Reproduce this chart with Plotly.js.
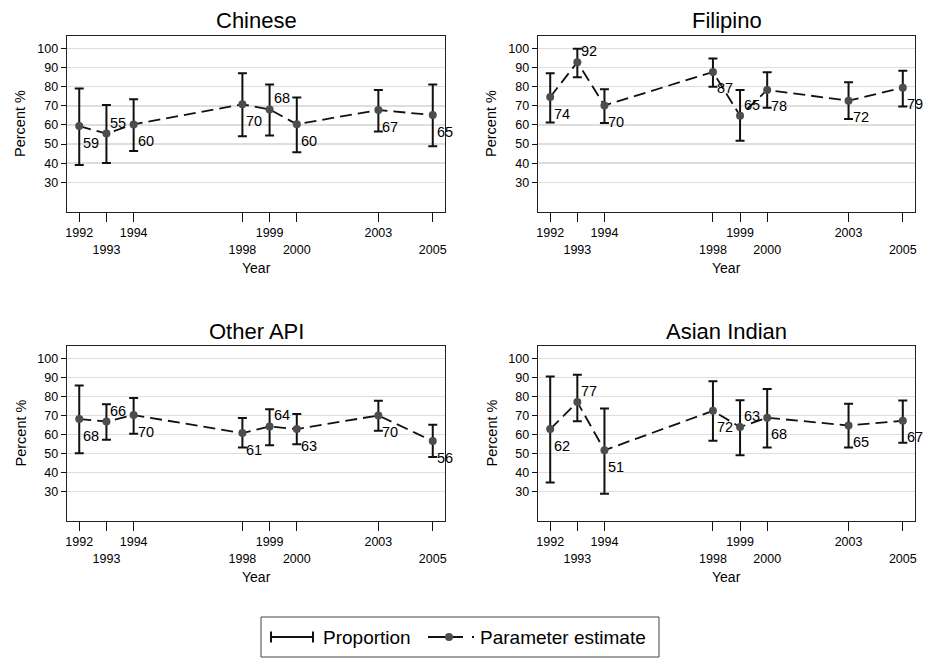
<!DOCTYPE html>
<html><head><meta charset="utf-8">
<script src="https://cdn.plot.ly/plotly-3.0.1.min.js"></script>
<style>html,body{margin:0;padding:0;background:#fff}#chart{width:938px;height:665px}</style>
</head><body><div id="chart"></div>
<script>
// ---------- data ----------
const years = [1992, 1993, 1994, 1998, 1999, 2000, 2003, 2005];
const yearLabels = ['1992', '<br>1993', '1994', '<br>1998', '1999', '<br>2000', '2003', '<br>2005'];
const yTicks = [30, 40, 50, 60, 70, 80, 90, 100];
const panelTitles = ['Chinese', 'Filipino', 'Other API', 'Asian Indian'];

const chineseEst    = [59.4, 55.5, 60.3, 70.8, 68.1, 60.4, 67.8, 65.2];
const chineseLow    = [39.1, 40.1, 46.4, 54.1, 54.5, 45.7, 56.6, 48.9];
const chineseHigh   = [79.0, 70.4, 73.4, 87.0, 81.1, 74.4, 78.3, 81.1];
const chineseLabels = ['59', '55', '60', '70', '68', '60', '67', '65'];
const chineseLabelPos = ['below', 'above', 'below', 'below', 'above', 'below', 'below', 'below'];

const filipinoEst    = [74.6, 92.8, 70.2, 87.7, 64.8, 78.3, 72.7, 79.5];
const filipinoLow    = [61.3, 84.9, 61.0, 80.0, 51.7, 69.0, 63.1, 69.7];
const filipinoHigh   = [87.0, 99.8, 78.6, 94.7, 78.3, 87.6, 82.3, 88.4];
const filipinoLabels = ['74', '92', '70', '87', '65', '78', '72', '79'];
const filipinoLabelPos = ['below', 'above', 'below', 'below', 'above', 'below', 'below', 'below'];

const otherEst    = [68.1, 66.8, 70.2, 60.7, 64.2, 62.8, 70.0, 56.5];
const otherLow    = [50.1, 57.2, 60.4, 53.1, 54.3, 54.8, 62.0, 48.2];
const otherHigh   = [85.7, 75.9, 79.1, 68.6, 73.3, 70.7, 77.7, 65.1];
const otherLabels = ['68', '66', '70', '61', '64', '63', '70', '56'];
const otherLabelPos = ['below', 'above', 'below', 'below', 'above', 'below', 'below', 'below'];

const indianEst    = [62.8, 77.0, 51.7, 72.4, 63.9, 68.8, 64.7, 67.2];
const indianLow    = [34.7, 67.0, 28.8, 56.7, 49.0, 53.1, 53.1, 55.7];
const indianHigh   = [90.4, 91.4, 73.6, 88.0, 78.0, 83.9, 76.1, 77.8];
const indianLabels = ['62', '77', '51', '72', '63', '68', '65', '67'];
const indianLabelPos = ['below', 'above', 'below', 'below', 'above', 'below', 'below', 'below'];

const legendLabels = ['Proportion', 'Parameter estimate'];

// ---------- layout helpers ----------
const W = 938, H = 665;
const px = x => x / W;
const py = y => 1 - y / H;
const FONT = 'Liberation Sans, Arial, Helvetica, sans-serif';

const panels = [
  {title: panelTitles[0], est: chineseEst, low: chineseLow, high: chineseHigh, labels: chineseLabels, pos: chineseLabelPos},
  {title: panelTitles[1], est: filipinoEst, low: filipinoLow, high: filipinoHigh, labels: filipinoLabels, pos: filipinoLabelPos},
  {title: panelTitles[2], est: otherEst, low: otherLow, high: otherHigh, labels: otherLabels, pos: otherLabelPos},
  {title: panelTitles[3], est: indianEst, low: indianLow, high: indianHigh, labels: indianLabels, pos: indianLabelPos}
];
// plot boxes in pixels: [left, right, top, bottom]
const boxes = [[67, 445, 36, 212], [538, 915, 36, 212], [67, 445, 346, 521], [538, 915, 346, 521]];

const data = [];
const layout = {
  width: W, height: H,
  margin: {l: 0, r: 0, t: 0, b: 0},
  paper_bgcolor: '#fff', plot_bgcolor: '#fff',
  showlegend: false,
  font: {family: FONT, color: '#000'},
  annotations: [], shapes: []
};

panels.forEach((p, i) => {
  const s = i === 0 ? '' : String(i + 1);
  const b = boxes[i];
  data.push({
    type: 'scatter', mode: 'lines+markers',
    x: years, y: p.est,
    xaxis: 'x' + s, yaxis: 'y' + s,
    line: {color: '#111', width: 1.8, dash: '12px,6px'},
    marker: {color: '#4d4d4d', size: 8},
    error_y: {
      type: 'data', symmetric: false,
      array: p.high.map((h, j) => h - p.est[j]),
      arrayminus: p.low.map((l, j) => p.est[j] - l),
      color: '#111', thickness: 2, width: 4.5
    },
    hoverinfo: 'x+y'
  });
  layout['xaxis' + s] = {
    domain: [px(b[0]), px(b[1])], anchor: 'y' + s,
    range: [1991.55, 2005.45],
    tickmode: 'array', tickvals: years, ticktext: yearLabels, tickangle: 0,
    ticks: 'outside', ticklen: 9, tickwidth: 1, tickcolor: '#111',
    showgrid: false, zeroline: false,
    showline: true, mirror: true, linecolor: '#222', linewidth: 1.4,
    tickfont: {size: 12.5, color: '#000', family: FONT},
    fixedrange: true
  };
  layout['yaxis' + s] = {
    domain: [py(b[3]), py(b[2])], anchor: 'x' + s,
    range: [14.5, 106.5],
    tickmode: 'array', tickvals: yTicks,
    ticks: 'outside', ticklen: 5, tickwidth: 1, tickcolor: '#111',
    showgrid: true, gridcolor: '#dedede', gridwidth: 1.5,
    zeroline: false,
    showline: true, mirror: true, linecolor: '#222', linewidth: 1.4,
    tickfont: {size: 12.5, color: '#000', family: FONT},
    fixedrange: true
  };
  // panel title
  layout.annotations.push({
    xref: 'paper', yref: 'paper', x: px((b[0] + b[1]) / 2), y: py(b[2] - 15),
    text: p.title, showarrow: false, xanchor: 'center', yanchor: 'middle',
    font: {size: 22, color: '#000', family: FONT}
  });
  // x axis title
  layout.annotations.push({
    xref: 'paper', yref: 'paper', x: px((b[0] + b[1]) / 2), y: py(b[3] + 56),
    text: 'Year', showarrow: false, xanchor: 'center', yanchor: 'middle',
    font: {size: 14, color: '#000', family: FONT}
  });
  // y axis title
  layout.annotations.push({
    xref: 'paper', yref: 'paper', x: px(b[0] - 47), y: py((b[2] + b[3]) / 2),
    text: 'Percent %', showarrow: false, xanchor: 'center', yanchor: 'middle', textangle: -90,
    font: {size: 14.5, color: '#000', family: FONT}
  });
  // point labels
  years.forEach((yr, j) => {
    layout.annotations.push({
      xref: 'x' + s, yref: 'y' + s, x: yr, y: p.est[j],
      text: p.labels[j], showarrow: false, xanchor: 'left', yanchor: 'middle',
      xshift: 2, yshift: p.pos[j] === 'above' ? 11 : -16.5,
      font: {size: 14.5, color: '#000', family: FONT}
    });
  });
});

// ---------- legend (drawn) ----------
const L = {left: 261, right: 659, top: 617, bottom: 657, mid: 637};
layout.shapes.push({type: 'rect', xref: 'paper', yref: 'paper',
  x0: px(L.left), x1: px(L.right), y0: py(L.bottom), y1: py(L.top),
  line: {color: '#444', width: 1}, fillcolor: 'rgba(0,0,0,0)'});
// Proportion symbol: capped line
layout.shapes.push({type: 'line', xref: 'paper', yref: 'paper',
  x0: px(271), x1: px(313), y0: py(L.mid), y1: py(L.mid), line: {color: '#111', width: 2}});
[271, 313].forEach(cx => layout.shapes.push({type: 'line', xref: 'paper', yref: 'paper',
  x0: px(cx), x1: px(cx), y0: py(L.mid - 5.5), y1: py(L.mid + 5.5), line: {color: '#111', width: 2}}));
// Parameter estimate symbol: line + marker + dash dot
layout.shapes.push({type: 'line', xref: 'paper', yref: 'paper',
  x0: px(428), x1: px(463), y0: py(L.mid), y1: py(L.mid), line: {color: '#111', width: 1.8}});
layout.shapes.push({type: 'line', xref: 'paper', yref: 'paper',
  x0: px(472), x1: px(474), y0: py(L.mid), y1: py(L.mid), line: {color: '#111', width: 1.8}});
layout.shapes.push({type: 'circle', xref: 'paper', yref: 'paper',
  x0: px(445), x1: px(453), y0: py(L.mid + 4), y1: py(L.mid - 4),
  line: {color: '#4d4d4d', width: 0}, fillcolor: '#4d4d4d'});
layout.annotations.push({xref: 'paper', yref: 'paper', x: px(321), y: py(L.mid),
  text: legendLabels[0], showarrow: false, xanchor: 'left', yanchor: 'middle',
  font: {size: 19, color: '#000', family: FONT}});
layout.annotations.push({xref: 'paper', yref: 'paper', x: px(478), y: py(L.mid),
  text: legendLabels[1], showarrow: false, xanchor: 'left', yanchor: 'middle',
  font: {size: 19, color: '#000', family: FONT}});

Plotly.newPlot('chart', data, layout, {staticPlot: true, displayModeBar: false});
</script>
</body></html>
